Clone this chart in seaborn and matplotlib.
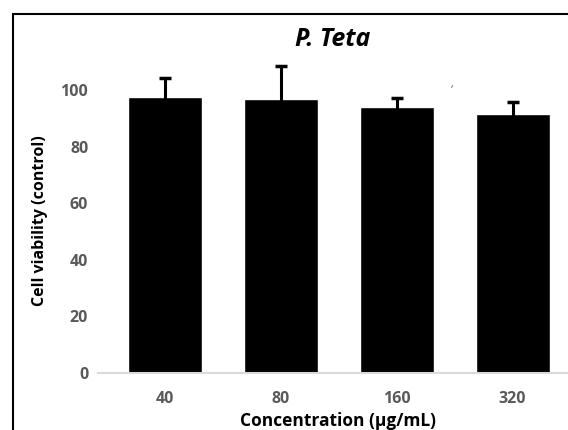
import pandas as pd
import matplotlib.pyplot as plt
import seaborn as sns
import numpy as np

# Style and font
sns.set_style("white")
plt.rcParams['font.family'] = ['Open Sans', 'DejaVu Sans']
plt.rcParams['axes.unicode_minus'] = False

# Data
concentrations = ['40', '80', '160', '320']
viability = [97.6, 97.1, 94.1, 91.5]
viability_err = [6.7, 11.5, 3.2, 4.2]

df = pd.DataFrame({'conc': concentrations, 'viability': viability})

fig = plt.figure(figsize=(5.68, 4.30), dpi=100)
ax = fig.add_axes([0.1725, 0.1326, 0.8475, 0.756])

sns.barplot(data=df, x='conc', y='viability', color='black', width=0.64,
            saturation=1, errorbar=None, ax=ax)
ax.errorbar(np.arange(len(concentrations)), viability, yerr=viability_err,
            fmt='none', ecolor='black', elinewidth=2.2, capsize=4, capthick=2.5,
            zorder=1)

ax.set_xlim(-0.575, 3.575)
ax.set_ylim(0, 115)
ax.set_yticks([0, 20, 40, 60, 80, 100])

sns.despine(ax=ax, left=True, top=True, right=True)
ax.spines['bottom'].set_color('#d9d9d9')
ax.spines['bottom'].set_linewidth(1.5)
ax.tick_params(axis='both', length=0, labelsize=11.5, labelcolor='#595959')
ax.tick_params(axis='x', pad=13)
ax.tick_params(axis='y', pad=7)
for lab in ax.get_xticklabels() + ax.get_yticklabels():
    lab.set_fontweight('bold')

ax.set_xlabel('Concentration (μg/mL)', fontsize=12.5, fontweight='bold', color='black')
ax.xaxis.set_label_coords(0.4995, -0.12)
ax.set_ylabel('Cell viability (control)', fontsize=11.5, fontweight='bold', color='black')
ax.yaxis.set_label_coords(-0.104, 0.47)

fig.text(333 / 568, 1 - 40 / 430, 'P. Teta', ha='center', va='center',
         fontsize=18, fontweight='bold', fontstyle='italic', color='black')
fig.text(452 / 568, 1 - 84 / 430, ',', ha='center', va='center',
         fontsize=7, color='#444444')

# Frame lines at top and left of the picture
fig.add_artist(plt.Line2D([12.5 / 568, 12.5 / 568], [0, 1 - 14 / 430],
                          transform=fig.transFigure, color='black', linewidth=1.5))
fig.add_artist(plt.Line2D([12.5 / 568, 1], [1 - 14 / 430, 1 - 14 / 430],
                          transform=fig.transFigure, color='black', linewidth=1.5))

plt.savefig('out.png', dpi=100)
plt.close()
